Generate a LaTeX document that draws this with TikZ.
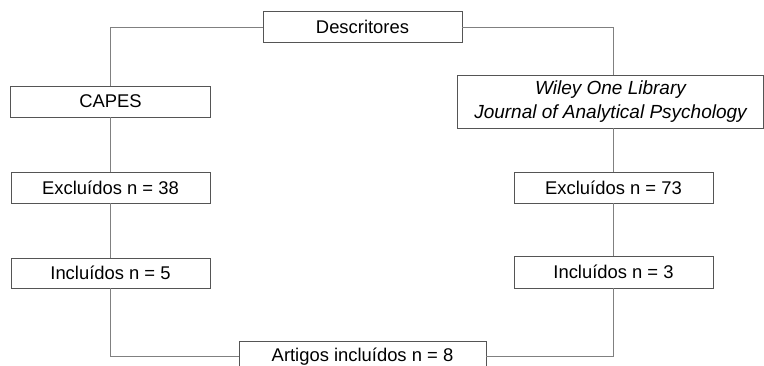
\documentclass[tikz,border=0pt]{standalone}
\usepackage{fontspec}
\setmainfont{Liberation Sans}
\definecolor{boxline}{HTML}{555555}
\definecolor{conline}{HTML}{808080}
\begin{document}
\begin{tikzpicture}[x=1pt,y=-1pt,
  box/.style={draw=boxline,line width=0.9pt,inner sep=0pt,minimum width=199pt,minimum height=31pt,font=\fontsize{18.4}{22}\selectfont,anchor=center},
  con/.style={draw=conline,line width=0.9pt}]
\useasboundingbox (0,0) rectangle (764,366);
\clip (0,0) rectangle (764,366);
\node[box] (desc) at (362.5,27) {Descritores};
\node[box,minimum width=200pt] (capes) at (110.5,101.5) {CAPES};
\node[box] (ex38) at (110.5,187.5) {Excluídos n = 38};
\node[box,minimum height=30pt] (in5) at (110.5,273) {Incluídos n = 5};
\node[box] (ex73) at (613.5,187.5) {Excluídos n = 73};
\node[box,minimum height=32pt] (in3) at (613.5,272) {Incluídos n = 3};
\node[box,minimum width=306pt,minimum height=53pt,align=center,font=\fontsize{19}{24}\selectfont\itshape] (wiley) at (610.5,101.5) {Wiley One Library\\Journal of Analytical Psychology};
\node[box,minimum width=247pt] (art) at (362.5,356.5) {Artigos incluídos n = 8};
\coordinate (rtop) at (ex73.north |- wiley.north);
\coordinate (rbot) at (ex73.north |- wiley.south);
\draw[con] (desc.west) -| (capes.north);
\draw[con] (desc.east) -| (rtop);
\draw[con] (capes.south) -- (ex38.north);
\draw[con] (ex38.south) -- (in5.north);
\draw[con] (in5.south) |- (art.west);
\draw[con] (rbot) -- (ex73.north);
\draw[con] (ex73.south) -- (in3.north);
\draw[con] (in3.south) |- (art.east);
\end{tikzpicture}
\end{document}
